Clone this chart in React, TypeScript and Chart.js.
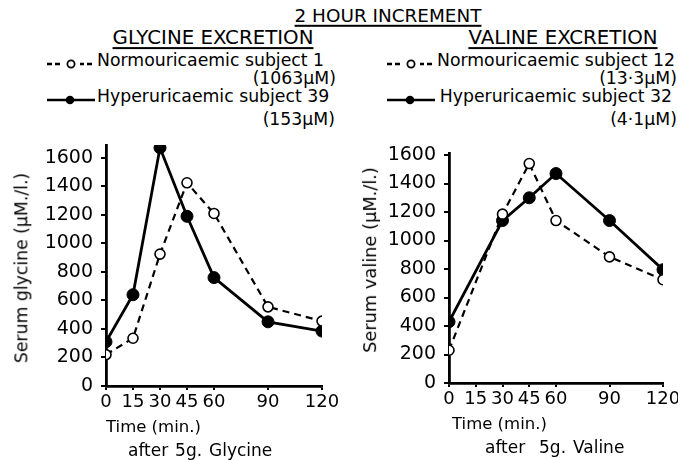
import React, { useEffect, useRef } from "react";
import { Chart, registerables } from "chart.js";
Chart.register(...registerables);

// ---- data ----
const timeTicks = [0, 15, 30, 45, 60, 90, 120];
const yTicks = [0, 200, 400, 600, 800, 1000, 1200, 1400, 1600];

const glyTimes = [0, 15, 30, 45, 60, 90, 120];
const glyNormo = [220, 335, 925, 1425, 1210, 555, 455];
const glyHyper = [310, 640, 1670, 1190, 760, 450, 385];

const valTimes = [0, 30, 45, 60, 90, 120];
const valNormo = [230, 1185, 1540, 1140, 885, 725];
const valHyper = [430, 1140, 1300, 1470, 1140, 795];

const TEXT_FONT = "'DejaVu Sans', sans-serif";
const TICK_FONT = "'DejaVu Sans', sans-serif";

type Geo = {
  canvasW: number;
  canvasH: number;
  yWidth: number;
  xHeight: number;
  padTop: number;
  padRight: number;
  yMax: number;
};

function makeConfig(times: number[], normo: number[], hyper: number[], g: Geo): any {
  return {
    type: "line",
    data: {
      datasets: [
        {
          data: times.map((t, i) => ({ x: t, y: normo[i] })),
          borderColor: "#000",
          borderWidth: 2.2,
          borderDash: [7, 5],
          pointRadius: 5,
          pointBackgroundColor: "#fff",
          pointBorderColor: "#000",
          pointBorderWidth: 1.6,
          tension: 0,
          fill: false,
        },
        {
          data: times.map((t, i) => ({ x: t, y: hyper[i] })),
          borderColor: "#000",
          borderWidth: 2.8,
          pointRadius: 6,
          pointBackgroundColor: "#000",
          pointBorderColor: "#000",
          pointBorderWidth: 1,
          tension: 0,
          fill: false,
        },
      ],
    },
    options: {
      animation: false,
      responsive: false,
      maintainAspectRatio: false,
      layout: { padding: { top: g.padTop, right: g.padRight, left: 0, bottom: 0 } },
      plugins: { legend: { display: false }, tooltip: { enabled: false }, title: { display: false } },
      scales: {
        x: {
          type: "linear",
          min: 0,
          max: 120,
          afterBuildTicks: (s: any) => {
            s.ticks = timeTicks.map((v) => ({ value: v }));
          },
          afterFit: (s: any) => {
            s.height = g.xHeight;
            s.paddingLeft = 0;
            s.paddingRight = 0;
          },
          grid: { drawOnChartArea: false, drawTicks: true, tickLength: 4, color: "#000", lineWidth: 2 },
          border: { color: "#000", width: 2.8 },
          ticks: {
            color: "#000",
            font: { family: TICK_FONT, size: 18 },
            padding: 2,
            maxRotation: 0,
            autoSkip: false,
            callback: (v: any) => String(v),
          },
        },
        y: {
          type: "linear",
          min: 0,
          max: g.yMax,
          afterBuildTicks: (s: any) => {
            s.ticks = yTicks.map((v) => ({ value: v }));
          },
          afterFit: (s: any) => {
            s.width = g.yWidth;
            s.paddingTop = 0;
            s.paddingBottom = 0;
          },
          grid: { drawOnChartArea: false, drawTicks: true, tickLength: 5, color: "#000", lineWidth: 2 },
          border: { color: "#000", width: 2.8 },
          ticks: {
            color: "#000",
            font: { family: TICK_FONT, size: 19 },
            padding: 8,
            autoSkip: false,
            callback: (v: any) => String(v),
          },
        },
      },
    },
  };
}

function Plot(props: { times: number[]; normo: number[]; hyper: number[]; g: Geo; left: number; top: number }) {
  const ref = useRef<HTMLCanvasElement | null>(null);
  useEffect(() => {
    if (!ref.current) return;
    const chart = new Chart(ref.current, makeConfig(props.times, props.normo, props.hyper, props.g));
    return () => chart.destroy();
  }, []);
  return (
    <canvas
      ref={ref}
      width={props.g.canvasW}
      height={props.g.canvasH}
      style={{ position: "absolute", left: props.left, top: props.top, width: props.g.canvasW, height: props.g.canvasH }}
    />
  );
}

const T = (p: {
  x: number;
  y: number;
  size?: number;
  align?: "left" | "center" | "right";
  u?: boolean;
  ls?: number;
  ws?: number;
  children: any;
  rot?: boolean;
}) => {
  const tx = p.align === "center" ? "-50%" : p.align === "right" ? "-100%" : "0";
  return (
    <div
      style={{
        position: "absolute",
        left: p.x,
        top: p.y,
        transform: p.rot ? `translate(-50%, -50%) rotate(-90deg)` : `translate(${tx}, -50%)`,
        fontFamily: TEXT_FONT,
        fontSize: p.size ?? 17.3,
        lineHeight: 1,
        whiteSpace: "pre",
        color: "#000",
        letterSpacing: p.ls ?? 0,
        wordSpacing: p.ws ?? 0,
        textDecoration: p.u ? "underline" : "none",
        textUnderlineOffset: 3,
        textDecorationThickness: 1.8,
      }}
    >
      {p.children}
    </div>
  );
};

// legend symbols (not text): dashed line with open circle, solid line with filled dot
const Sym = (p: { x: number; y: number; open: boolean }) => (
  <svg style={{ position: "absolute", left: p.x, top: p.y - 8 }} width={50} height={16}>
    {p.open ? (
      <g>
        <line x1={0} y1={8} x2={48} y2={8} stroke="#000" strokeWidth={2.6} strokeDasharray="5 3" />
        <rect x={15} y={2} width={18} height={12} fill="#fff" />
        <circle cx={24} cy={8} r={3.6} fill="#fff" stroke="#000" strokeWidth={1.8} />
      </g>
    ) : (
      <g>
        <line x1={0} y1={8} x2={48} y2={8} stroke="#000" strokeWidth={2.6} />
        <circle cx={23} cy={8} r={4.3} fill="#000" />
      </g>
    )}
  </svg>
);

const leftGeo: Geo = { canvasW: 340, canvasH: 330, yWidth: 106, xHeight: 74, padTop: 15, padRight: 18, yMax: 1690 };
const rightGeo: Geo = { canvasW: 338, canvasH: 330, yWidth: 109, xHeight: 77, padTop: 23.6, padRight: 15, yMax: 1610 };

export default function App() {
  useEffect(() => {
    document.body.style.margin = "0";
  }, []);
  return (
    <div style={{ position: "relative", width: 678, height: 460, background: "#fff", overflow: "hidden" }}>
      <T x={388} y={15.5} size={18.4} align="center" u>2 HOUR INCREMENT</T>
      <T x={213} y={38} size={19.8} align="center" u>GLYCINE EXCRETION</T>
      <T x={563} y={38} size={19.8} align="center" u>VALINE EXCRETION</T>

      <Sym x={47} y={64} open />
      <T x={97} y={61}>Normouricaemic subject 1</T>
      <T x={336} y={79} align="right">(1063µM)</T>
      <Sym x={47} y={100} open={false} />
      <T x={97} y={97}>Hyperuricaemic subject 39</T>
      <T x={335} y={120} align="right">(153µM)</T>

      <Sym x={387} y={64} open />
      <T x={675} y={61} align="right">Normouricaemic subject 12</T>
      <T x={677} y={79} align="right">(13·3µM)</T>
      <Sym x={387} y={100} open={false} />
      <T x={672} y={97} align="right">Hyperuricaemic subject 32</T>
      <T x={677} y={120} align="right">(4·1µM)</T>

      <Plot times={glyTimes} normo={glyNormo} hyper={glyHyper} g={leftGeo} left={0} top={130} />
      <Plot times={valTimes} normo={valNormo} hyper={valHyper} g={rightGeo} left={340} top={130} />

      <T x={22} y={268} size={17.3} rot>Serum glycine (µM./l.)</T>
      <T x={370} y={260} size={17.8} rot>Serum valine (µM./l.)</T>

      <T x={106} y={427} size={16.5}>Time (min.)</T>
      <T x={128} y={450} size={17} ws={1.5}>after 5g. Glycine</T>
      <T x={452} y={424} size={16.5}>Time (min.)</T>
      <T x={485} y={447} size={17} ws={1.5}>after  5g. Valine</T>
    </div>
  );
}
